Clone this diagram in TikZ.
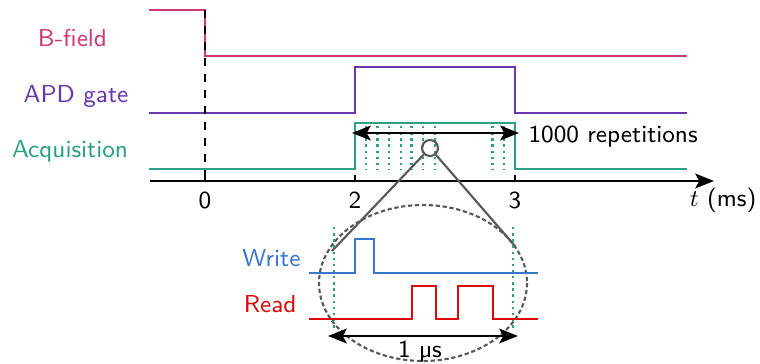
\documentclass[tikz,border=0pt]{standalone}
\usepackage{tikz}
\usepackage{xcolor}
\usetikzlibrary{arrows.meta,calc}

\definecolor{bfieldcol}{RGB}{204,56,120}
\definecolor{apdcol}{RGB}{104,56,176}
\definecolor{acqcol}{RGB}{44,160,132}
\definecolor{writecol}{RGB}{56,118,204}
\definecolor{readcol}{RGB}{220,10,10}

\tikzset{
  signal/.style={line width=1.1pt},
  siglabel/.style={anchor=base,inner sep=0pt},
  txt/.style={inner sep=0pt},
  repline/.style={acqcol,dash pattern=on 0.9pt off 1.4pt,line width=0.9pt},
  zoomline/.style={gray!70!black,line width=0.8pt},
  bigarrow/.style={<->,line width=1.1pt,>={Stealth[length=7pt,width=5.5pt,inset=1.5pt]}},
}

\begin{document}
\begin{tikzpicture}[x=0.375pt,y=-0.375pt,>=Stealth,font=\sffamily\fontsize{9.2}{11}\selectfont]
  \useasboundingbox (0,0) rectangle (760,364);

  % time axis
  \coordinate (ax0) at (150,181);
  \coordinate (ax1) at (714,181);
  \draw[->,line width=1.1pt,>={Stealth[length=7pt,width=5.5pt,inset=1.5pt]}] (ax0) -- (ax1);
  \foreach \x/\lab in {205/0,355/2,515/3} {
    \draw[line width=0.8pt] (\x,181) -- (\x,175);
    \node[txt,anchor=base] (tick\lab) at (\x,209) {\lab};
  }
  \node[txt,anchor=base east] (tlab) at (757,207) {$t$ (ms)};

  % B-field
  \draw[signal,bfieldcol] (149,10) -- (205,10) -- (205,56) -- (687,56);
  \node[siglabel,bfieldcol] (bfield) at (72.5,46) {B-field};

  % APD gate
  \draw[signal,apdcol] (149,113) -- (355,113) -- (355,67) -- (515,67) -- (515,113) -- (687,113);
  \node[siglabel,apdcol] (apd) at (76,102) {APD gate};

  % acquisition with repetitions
  \foreach \x in {366,377.7,389.3,401,411.7,423.3,435,492.7,504}
    \draw[repline] (\x,126) -- (\x,170);
  \draw[signal,acqcol] (149,169) -- (355,169) -- (355,123) -- (515,123) -- (515,169) -- (687,169);
  \node[siglabel,acqcol] (acq) at (70,158) {Acquisition};

  % trigger at t=0
  \draw[dashed,line width=1.1pt] (205,10) -- (205,181);

  % 1000 repetitions
  \coordinate (repL) at (352,133);
  \coordinate (repR) at (519,133);
  \draw[bigarrow] (repL) -- (repR);
  \node[txt,anchor=base west] (reps) at (528,142) {1000 repetitions};

  % zoom
  \node[circle,draw=gray!70!black,line width=0.8pt,minimum size=16*0.375pt,inner sep=0pt] (zc) at (430,148) {};
  \coordinate (zl) at (332,251);
  \coordinate (zr) at (515,246);
  \draw[zoomline] (zc) -- (zl);
  \draw[zoomline] (zc) -- (zr);
  \draw[gray!70!black,dash pattern=on 1.6pt off 1pt,line width=0.8pt] (423,283) ellipse (104 and 78);

  % single repetition
  \draw[repline] (334,227) -- (334,330);
  \draw[repline] (513,227) -- (513,330);
  \draw[signal,writecol] (309,273) -- (355,273) -- (355,239) -- (374,239) -- (374,273) -- (538,273);
  \node[siglabel,writecol,anchor=base east] (write) at (301,267) {Write};
  \draw[signal,readcol] (309,319) -- (412,319) -- (412,286) -- (436,286) -- (436,319)
    -- (458,319) -- (458,286) -- (493,286) -- (493,319) -- (538,319);
  \node[siglabel,readcol,anchor=base east] (read) at (297,313) {Read};

  % 1 us
  \coordinate (usL) at (328,336);
  \coordinate (usR) at (518,336);
  \draw[bigarrow] (usL) -- (usR);
  \node[txt,anchor=base] (uslab) at (420,358) {1 µs};
\end{tikzpicture}
\end{document}
